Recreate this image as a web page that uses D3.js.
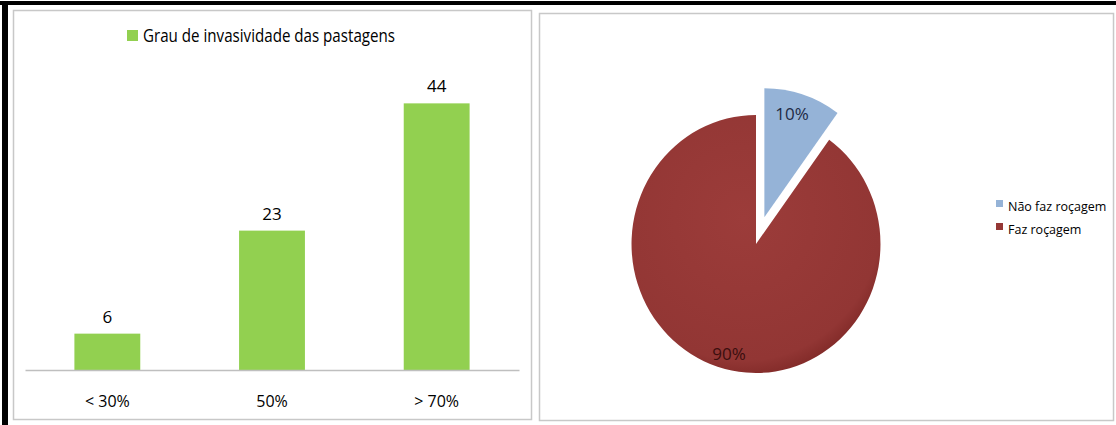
<!DOCTYPE html>
<html><head><meta charset="utf-8">
<script src="https://cdn.jsdelivr.net/npm/d3@7"></script>
<style>
html,body{margin:0;padding:0;background:#fff;}
svg{display:block;}
text{font-family:"Open Sans","Noto Sans",sans-serif;}
</style></head>
<body>
<svg id="c" width="1116" height="425"></svg>
<script>
const barCategories = ["< 30%", "50%", "> 70%"];
const barValues = [6, 23, 44];
const barSeriesName = "Grau de invasividade das pastagens";
const pieLabels = ["Não faz roçagem", "Faz roçagem"];
const pieValues = [10, 90];
const pieColors = ["#95b3d7", "#953735"];

const svg = d3.select("#c");

// frame
svg.append("rect").attr("x",0).attr("y",0).attr("width",1116).attr("height",425).attr("fill","#fff");
svg.append("rect").attr("x",0).attr("y",1).attr("width",1116).attr("height",4).attr("fill","#000");
svg.append("rect").attr("x",2).attr("y",1).attr("width",6).attr("height",424).attr("fill","#000");

// panels
svg.append("rect").attr("x",13.5).attr("y",10.5).attr("width",518).attr("height",409)
  .attr("fill","#fff").attr("stroke","#c8c8c8").attr("stroke-width",1.5);
svg.append("rect").attr("x",539.5).attr("y",13.5).attr("width",574).attr("height",407)
  .attr("fill","#fff").attr("stroke","#c8c8c8").attr("stroke-width",1.5);

// ---- Bar chart ----
const x = d3.scaleBand().domain(barCategories).range([25, 519]).paddingInner(0.6).paddingOuter(0.3);
const y = d3.scaleLinear().domain([0, 50]).range([370, 67]);

const g = svg.append("g");
g.selectAll("rect.bar").data(barValues).join("rect").attr("class","bar")
  .attr("x",(d,i)=>x(barCategories[i])).attr("width",x.bandwidth())
  .attr("y",d=>y(d)).attr("height",d=>y(0)-y(d)).attr("fill","#92d050");

const xAxis = d3.axisBottom(x).tickSize(0).tickPadding(0);
const ax = g.append("g").attr("transform",`translate(0,${y(0)})`).call(xAxis);
ax.select(".domain").attr("stroke","#bfbfbf").attr("stroke-width",1.5);
ax.selectAll(".tick text").attr("font-size",16).attr("fill","#000")
  .attr("dy",null).attr("y",37).attr("font-family","'Open Sans',sans-serif");

g.selectAll("text.val").data(barValues).join("text").attr("class","val")
  .attr("x",(d,i)=>x(barCategories[i])+x.bandwidth()/2).attr("y",d=>y(d)-11)
  .attr("text-anchor","middle").attr("font-size",17).attr("fill","#000").text(d=>d);

// legend
g.append("rect").attr("x",127).attr("y",30).attr("width",11).attr("height",11).attr("fill","#92d050");
g.append("text").attr("x",143).attr("y",42).attr("font-size",18).attr("fill","#000")
  .attr("textLength",252).attr("lengthAdjust","spacingAndGlyphs").text(barSeriesName);

// ---- Pie chart ----
const cx = 756, cy = 244, r = 129, explode = 28;
const pie = d3.pie().sort(null).value(d=>d);
const arcs = pie(pieValues);
const arc = d3.arc().innerRadius(0).outerRadius(r);
const defs = svg.append("defs");
const rg = defs.append("radialGradient").attr("id","rg").attr("cx","45%").attr("cy","40%").attr("r","65%");
rg.append("stop").attr("offset","0%").attr("stop-color","#9c3c3a");
rg.append("stop").attr("offset","85%").attr("stop-color","#923634");
rg.append("stop").attr("offset","100%").attr("stop-color","#7a2523");

const pg = svg.append("g").attr("transform",`translate(${cx},${cy}) scale(0.965,1)`);
pg.selectAll("path").data(arcs).join("path")
  .attr("d",arc)
  .attr("transform",(d,i)=>{
    if(i!==0) return null;
    const m=(d.startAngle+d.endAngle)/2;
    return `translate(${explode*Math.sin(m)},${-explode*Math.cos(m)})`;
  })
  .attr("fill",(d,i)=> i===1 ? "url(#rg)" : pieColors[i]);

// labels
const lg0 = svg.append("g").attr("transform",`translate(${cx},${cy})`);
const labPos = [[36, -131], [-27, 109]];
const labCol = ["#1f2a44", "#3a0e0e"];
lg0.selectAll("text.pl").data(arcs).join("text").attr("class","pl")
  .attr("x",(d,i)=>labPos[i][0]).attr("y",(d,i)=>labPos[i][1])
  .attr("text-anchor","middle").attr("dominant-baseline","central")
  .attr("font-size",17).attr("fill",(d,i)=>labCol[i])
  .text(d=>Math.round(d.data)+"%");

// pie legend
const lg = svg.append("g");
pieLabels.forEach((lab,i)=>{
  lg.append("rect").attr("x",996).attr("y",203+i*23-3).attr("width",7).attr("height",7).attr("fill",pieColors[i]);
  lg.append("text").attr("x",1008).attr("y",206+i*23).attr("dominant-baseline","central")
    .attr("font-size",12.5).attr("fill","#000").text(lab);
});
</script>
</body></html>
